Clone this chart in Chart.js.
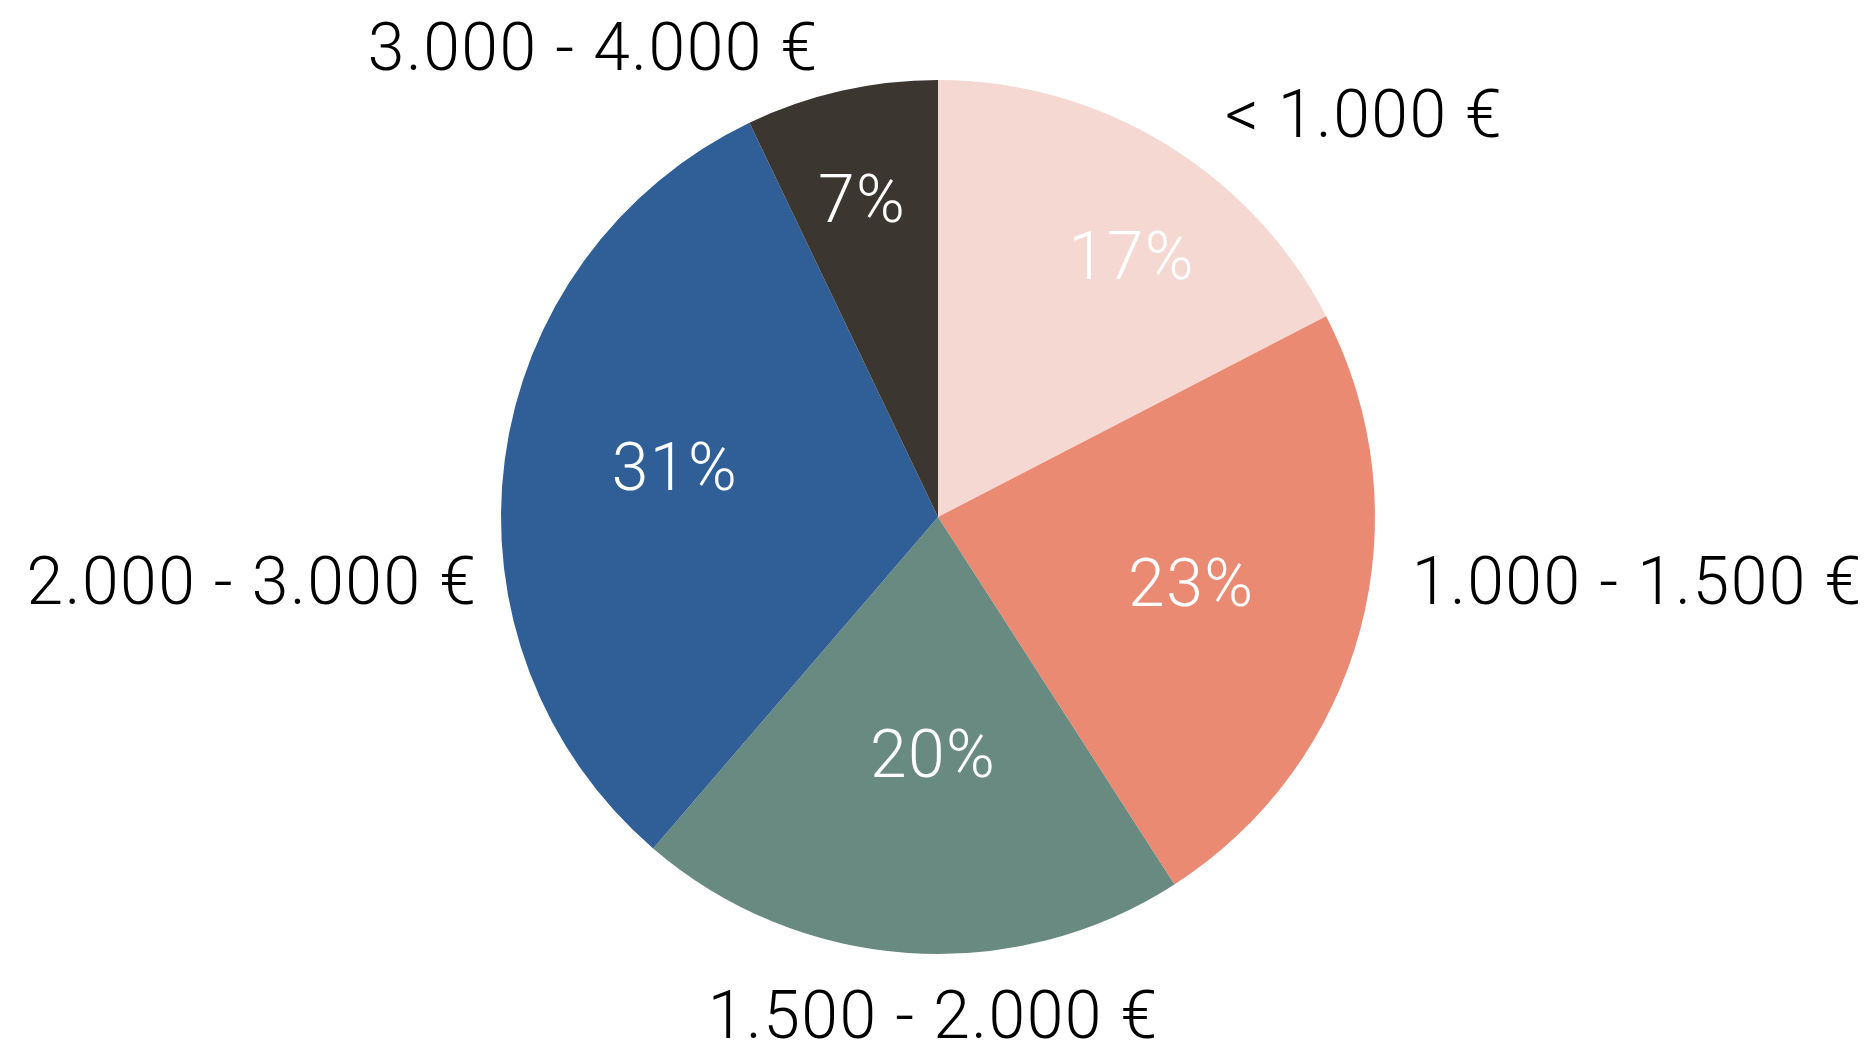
<!DOCTYPE html>
<html>
<head>
<meta charset="utf-8">
<script src="https://cdn.jsdelivr.net/npm/chart.js@4/dist/chart.umd.min.js"></script>
<style>
html,body{margin:0;padding:0;background:#fff;}
#wrap{width:1872px;height:1042px;position:relative;}
</style>
</head>
<body>
<div id="wrap"><canvas id="c" width="1872" height="1042"></canvas></div>
<script>
// Data
const categories = ["< 1.000 €", "1.000 - 1.500 €", "1.500 - 2.000 €", "2.000 - 3.000 €", "3.000 - 4.000 €"];
const shares = [17.4, 23.5, 20.4, 31.6, 7.1];
const percentLabels = ["17%", "23%", "20%", "31%", "7%"];

// Styles / layout
const sliceColors = ["#F5D8D2", "#EA8A73", "#698A80", "#2F5F96", "#3C3631"];
const FONT = "Roboto, 'Liberation Sans', sans-serif";
const FONT_SIZE = 66;
const LETTER_SPACING = '1.5px';
const TEXT_Y_SHIFT = 5;
// inner percent label: distance (fraction of radius) and angular shift (deg) from slice mid-angle
const innerDist = [0.742, 0.60, 0.547, 0.612, 0.744];
const innerShift = [5.4, 0, -2.8, 2.9, -0.7];
// outer category label centres, in radius units relative to pie centre
const outerPos = [[0.975, -0.918], [1.60, 0.151], [-0.011, 1.144], [-1.57, 0.151], [-0.789, -1.073]];

const labelPlugin = {
  id: 'pieLabels',
  afterDatasetsDraw(chart) {
    const ctx = chart.ctx;
    const meta = chart.getDatasetMeta(0);
    ctx.save();
    ctx.font = `300 ${FONT_SIZE}px ${FONT}`;
    try { ctx.letterSpacing = LETTER_SPACING; } catch (e) {}
    ctx.textAlign = 'center';
    ctx.textBaseline = 'middle';
    meta.data.forEach((arc, i) => {
      const p = arc.getProps(['x', 'y', 'startAngle', 'endAngle', 'outerRadius'], true);
      const mid = (p.startAngle + p.endAngle) / 2 + innerShift[i] * Math.PI / 180;
      const r = p.outerRadius;
      ctx.fillStyle = '#ffffff';
      ctx.fillText(percentLabels[i], p.x + Math.cos(mid) * r * innerDist[i], p.y + Math.sin(mid) * r * innerDist[i] + TEXT_Y_SHIFT);
      ctx.fillStyle = '#000000';
      ctx.fillText(categories[i], p.x + outerPos[i][0] * r, p.y + outerPos[i][1] * r + TEXT_Y_SHIFT);
    });
    ctx.restore();
  }
};

new Chart(document.getElementById('c'), {
  type: 'pie',
  data: {
    labels: categories,
    datasets: [{
      data: shares,
      backgroundColor: sliceColors,
      borderWidth: 0
    }]
  },
  options: {
    responsive: false,
    animation: false,
    layout: { padding: { top: 80, bottom: 88, left: 501, right: 497 } },
    plugins: {
      legend: { display: false },
      tooltip: { enabled: false }
    }
  },
  plugins: [labelPlugin]
});
</script>
</body>
</html>
